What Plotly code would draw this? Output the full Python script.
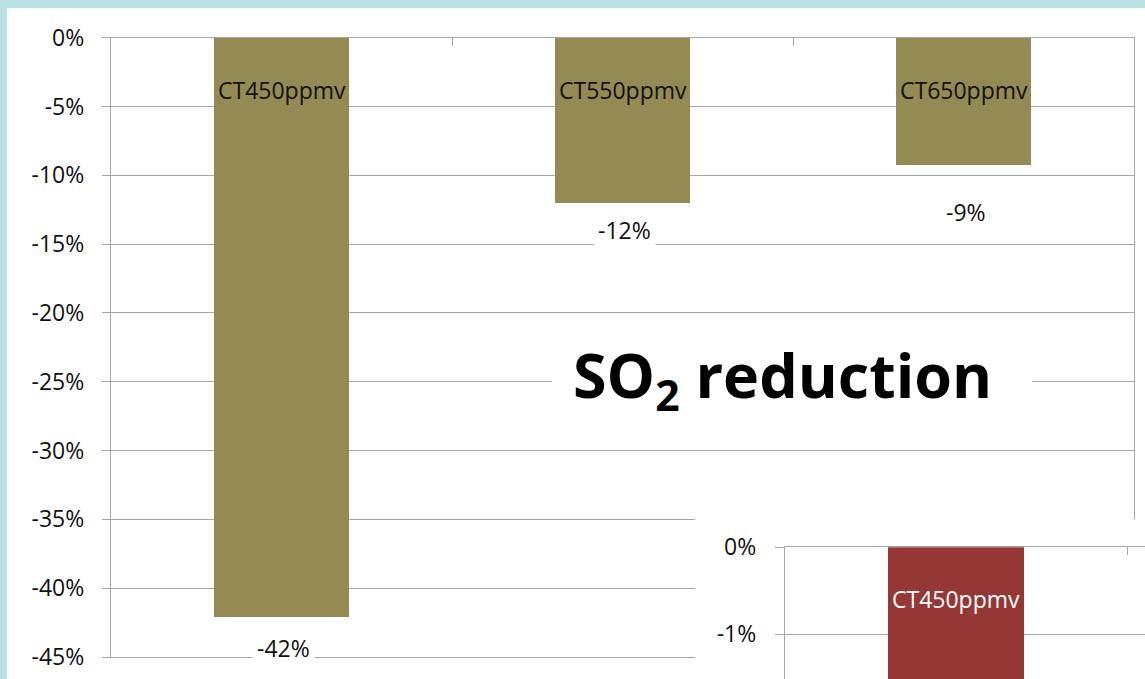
import plotly.graph_objects as go

W, H = 1145, 679

# ---- data -------------------------------------------------------------
categories = ["CT450ppmv", "CT550ppmv", "CT650ppmv"]
so2_change = [-42.1, -12.0, -9.2]              # % change in SO2
value_label_y = [-44.35, -13.95, -12.65]       # where the value labels sit
y_tick_vals = [0, -5, -10, -15, -20, -25, -30, -35, -40, -45]
y_tick_text = ["0%", "-5%", "-10%", "-15%", "-20%", "-25%", "-30%", "-35%", "-40%", "-45%"]

inset_categories = ["CT450ppmv"]
inset_change = [-2.0]
inset_tick_vals = [0, -1]
inset_tick_text = ["0%", "-1%"]

title_text = "SO<sub>2</sub> reduction"

# ---- style ------------------------------------------------------------
TEAL = "#B9E0E3"
OLIVE = "#948A54"
RED = "#953735"
GRID = "#A6A6A6"
FONT = "Open Sans"
TXT = "#111111"


def px(x):
    return x / W


def py(y):
    return 1 - y / H


fig = go.Figure()

fig.add_trace(go.Bar(x=categories, y=so2_change, marker_color=OLIVE,
                     marker_line_width=0, width=0.395,
                     xaxis="x", yaxis="y", hoverinfo="skip"))

# blank white panel that hides the lower-right part of the main chart
fig.add_trace(go.Scatter(x=[], y=[], xaxis="x2", yaxis="y2", hoverinfo="skip"))

fig.add_trace(go.Bar(x=inset_categories, y=inset_change, marker_color=RED,
                     marker_line_width=0, width=0.4,
                     xaxis="x3", yaxis="y3", hoverinfo="skip"))

annotations = []
for c, v, ly in zip(categories, so2_change, value_label_y):
    annotations.append(dict(x=c, y=-3.8, xref="x", yref="y", text=c, showarrow=False,
                            font=dict(family=FONT, size=23, color=TXT),
                            xanchor="center", yanchor="middle"))
    annotations.append(dict(x=c, y=ly, xref="x", yref="y", text=f"{round(v)}%",
                            showarrow=False, xshift=2,
                            font=dict(family=FONT, size=23, color=TXT),
                            bgcolor="white", borderpad=4,
                            xanchor="center", yanchor="middle"))

for c in inset_categories:
    annotations.append(dict(x=c, y=-0.594, xref="x3", yref="y3", text=c, showarrow=False,
                            font=dict(family=FONT, size=23, color="white"),
                            xanchor="center", yanchor="middle"))

annotations.append(dict(x=px(782.5), y=py(378), xref="paper", yref="paper",
                        text=title_text, showarrow=False,
                        font=dict(family=FONT, size=61, color="black", weight="bold"),
                        xanchor="center", yanchor="middle"))

shapes = [
    dict(type="rect", xref="paper", yref="paper", x0=px(7), x1=1, y0=0, y1=py(8),
         fillcolor="white", line_width=0, layer="below"),
    dict(type="rect", xref="paper", yref="paper", x0=px(552), x1=px(1032),
         y0=py(425), y1=py(316), fillcolor="white", line_width=0, layer="above"),
]

axis_common = dict(fixedrange=True, automargin=False)

fig.update_layout(
    width=W, height=H,
    autosize=False,
    margin=dict(l=0, r=0, t=0, b=0, pad=0, autoexpand=False),
    paper_bgcolor=TEAL,
    plot_bgcolor="white",
    showlegend=False,
    bargap=0,
    xaxis=dict(domain=[px(111), px(1134)], range=[-0.5, 2.5], type="category",
               anchor="y", side="top", showline=True, mirror=True,
               linecolor=GRID, linewidth=1.3, ticks="inside", tickson="boundaries",
               ticklen=8, tickcolor=GRID, tickwidth=1.3, showticklabels=False,
               showgrid=False, zeroline=False, **axis_common),
    yaxis=dict(domain=[py(657), py(37.7)], range=[-45, 0], anchor="x",
               tickvals=y_tick_vals, ticktext=y_tick_text, ticks="outside",
               ticklen=8, tickcolor=GRID, tickwidth=1.3, showline=True, mirror=True,
               linecolor=GRID, linewidth=1.3, showgrid=True, gridcolor=GRID,
               gridwidth=1.3, zeroline=False, ticklabelstandoff=13,
               tickfont=dict(family=FONT, size=23, color=TXT), **axis_common),
    xaxis2=dict(domain=[px(695), 1], anchor="y2", visible=False, range=[0, 1],
                **axis_common),
    yaxis2=dict(domain=[0, py(519)], anchor="x2", visible=False, range=[0, 1],
                **axis_common),
    xaxis3=dict(domain=[px(785), 1], range=[-0.5, -0.5 + 360 / 342], type="category",
                anchor="y3", side="top", showline=True, linecolor=GRID, linewidth=1.3,
                ticks="inside", tickson="boundaries", ticklen=8, tickcolor=GRID,
                tickwidth=1.3, showticklabels=False, showgrid=False, zeroline=False,
                **axis_common),
    yaxis3=dict(domain=[0, py(547.3)], range=[-(679 - 547.3) / 87, 0], anchor="x3",
                tickvals=inset_tick_vals, ticktext=inset_tick_text, ticks="outside",
                ticklen=9, tickcolor=GRID, tickwidth=1.3, showline=True,
                linecolor=GRID, linewidth=1.3, showgrid=True, gridcolor=GRID,
                gridwidth=1.3, zeroline=False, ticklabelstandoff=14,
                tickfont=dict(family=FONT, size=23, color=TXT), **axis_common),
    annotations=annotations,
    shapes=shapes,
)

fig.write_html("out.html", config={"displayModeBar": False})
